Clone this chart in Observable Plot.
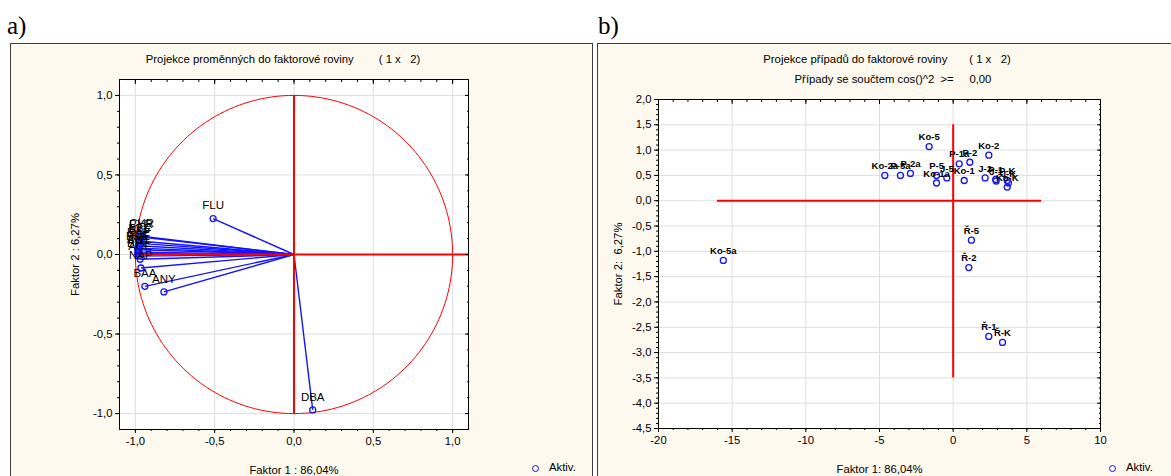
<!DOCTYPE html>
<html><head><meta charset="utf-8">
<script src="https://cdn.jsdelivr.net/npm/d3@7"></script>
<script src="https://cdn.jsdelivr.net/npm/@observablehq/plot@0.6"></script>
<style>
body{margin:0;width:1171px;height:476px;overflow:hidden;background:#fff;position:relative;font-family:"Liberation Sans",Arial,sans-serif;}
.panel{position:absolute;top:43px;height:440px;background:#fdf9ee;border:1px solid #3c3c3c;box-sizing:border-box;}
.lab{position:absolute;font-family:"Liberation Serif","Times New Roman",serif;font-size:25px;line-height:28px;color:#000}
.title{position:absolute;width:400px;text-align:center;font-size:11.3px;white-space:pre;color:#000;line-height:13px}
.leg{position:absolute;font-size:11.3px;color:#000;line-height:13px;white-space:pre}
.leg .c{display:inline-block;width:5px;height:5px;border:1.3px solid #1414ff;border-radius:50%;margin-right:10px;vertical-align:-1px}
.chart{position:absolute;top:43px}
</style></head><body>
<div class="lab" style="left:7px;top:12px">a)</div>
<div class="lab" style="left:598px;top:12px">b)</div>
<div class="panel" style="left:10px;width:583px"></div>
<div class="panel" style="left:597px;width:580px"></div>
<div id="a" class="chart" style="left:10px"></div>
<div id="b" class="chart" style="left:597px"></div>
<div class="title" style="left:83px;top:53px">Projekce proměnných do faktorové roviny        ( 1 x   2)</div>
<div class="title" style="left:687px;top:53px">Projekce případů do faktorové roviny       ( 1 x   2)</div>
<div class="title" style="left:693px;top:73px">Případy se součtem cos()^2  &gt;=     0,00</div>
<div class="leg" style="left:532px;top:461px"><span class="c"></span>Aktiv.</div>
<div class="leg" style="left:1109px;top:461px"><span class="c"></span>Aktiv.</div>
<script>
// ---- Panel a: factor loadings ----
const varNames = ["CHR","PYR","BBF","BKF","BAP","FLT","PHE","ANT","IND","BPE","ACE","NAP","BAA","ANY","FLU","DBA"];
const factor1Loadings = [-0.96,-0.965,-0.975,-0.97,-0.98,-0.975,-0.985,-0.98,-0.985,-0.98,-0.97,-0.965,-0.94,-0.82,-0.51,0.118];
const factor2Loadings = [0.115,0.11,0.085,0.07,0.055,0.04,0.03,0.015,0.005,-0.01,-0.03,-0.085,-0.2,-0.235,0.226,-0.977];
const ticksA = [-1, -0.5, 0, 0.5, 1];

// ---- Panel b: case scores ----
const caseNames = ["Ko-5","Ko-2","P-1a","P-2","Ko-2a","P-5a","P-2a","P-5","Ko-1a","J-5","Ko-1","J-2","P-1","J-1","P-K","J-K","Ko-K","Ř-5","Ř-2","Ř-1","Ř-K","Ko-5a"];
const factor1Scores = [-1.63,2.42,0.41,1.13,-4.64,-3.58,-2.90,-1.13,-1.13,-0.43,0.75,2.17,2.89,2.92,3.67,3.75,3.67,1.24,1.06,2.42,3.35,-15.6];
const factor2Scores = [1.07,0.90,0.73,0.76,0.50,0.50,0.54,0.50,0.35,0.45,0.40,0.45,0.42,0.39,0.40,0.35,0.27,-0.78,-1.32,-2.68,-2.80,-1.18];
const xTicksB = [-20, -15, -10, -5, 0, 5, 10];
const yTicksB = [2, 1.5, 1, 0.5, 0, -0.5, -1, -1.5, -2, -2.5, -3, -3.5, -4, -4.5];

const blue = "#1414ff", red = "#ff0000", gridColor = "#dedede", ink = "#000";
const fmt1 = d => (Math.abs(d) < 1e-9 ? 0 : d).toFixed(1).replace(".", ",");
const fmt0 = d => String(d);

const loadings = varNames.map((name, i) => ({name, x: factor1Loadings[i], y: factor2Loadings[i]}));
const scores = caseNames.map((name, i) => ({name, x: factor1Scores[i], y: factor2Scores[i]}));

// geometric guide: unit correlation circle
const unitCircle = d3.range(0, 361, 2).map(a => ({x: Math.cos(a * Math.PI / 180), y: Math.sin(a * Math.PI / 180)}));

const minorA = d3.range(-10, 11).map(i => i / 10);
const minorBx = d3.range(-20, 11);
const minorBy = d3.range(-45, 21).map(i => i / 10);

const style = {background: "transparent", fontFamily: "'Liberation Sans', Arial, sans-serif", fontSize: "11.3px", color: ink, overflow: "visible"};

function borderAxes(xMaj, xMin, yMaj, yMin) {
  return [
    Plot.axisX(xMin, {anchor: "bottom", tickSize: 2, fill: "none", label: null}),
    Plot.axisY(yMin, {anchor: "left", tickSize: 2, fill: "none", label: null}),
    Plot.axisX(xMaj, {anchor: "top", tickSize: -4, fill: "none", label: null}),
    Plot.axisX(xMin, {anchor: "top", tickSize: -2, fill: "none", label: null}),
    Plot.axisY(yMaj, {anchor: "right", tickSize: -4, fill: "none", label: null}),
    Plot.axisY(yMin, {anchor: "right", tickSize: -2, fill: "none", label: null})
  ];
}

const chartA = Plot.plot({
  width: 583, height: 433,
  marginLeft: 109, marginRight: 125, marginTop: 36, marginBottom: 47,
  x: {domain: [-1.1, 1.1]},
  y: {domain: [-1.1, 1.1]},
  style,
  marks: [
    Plot.frame({fill: "white", stroke: null}),
    Plot.gridX(ticksA, {stroke: gridColor, strokeOpacity: 1}),
    Plot.gridY(ticksA, {stroke: gridColor, strokeOpacity: 1}),
    Plot.link(loadings, {x1: 0, y1: 0, x2: "x", y2: "y", stroke: blue, strokeWidth: 1.4}),
    Plot.line(unitCircle, {x: "x", y: "y", stroke: red, strokeWidth: 1}),
    Plot.ruleY([0], {x1: -1, x2: 1.1, stroke: red, strokeWidth: 2}),
    Plot.ruleX([0], {y1: -1, y2: 1, stroke: red, strokeWidth: 2}),
    Plot.dot(loadings, {x: "x", y: "y", r: 3, stroke: blue, strokeWidth: 1.3, fill: "none"}),
    Plot.text(loadings, {x: "x", y: "y", text: "name", dy: -13, fill: "#000", fontSize: 11.5}),
    Plot.frame({stroke: "#000"}),
    Plot.axisX(ticksA, {anchor: "bottom", tickSize: 4, tickPadding: 3, tickFormat: fmt1, label: "Faktor 1 : 86,04%", labelAnchor: "center", labelArrow: "none", labelOffset: 44}),
    Plot.axisY(ticksA, {anchor: "left", tickSize: 4, tickPadding: 3, tickFormat: fmt1, label: "Faktor 2 : 6,27%", labelAnchor: "center", labelArrow: "none", labelOffset: 49}),
    ...borderAxes(ticksA, minorA, ticksA, minorA)
  ]
});
document.getElementById("a").append(chartA);

const chartB = Plot.plot({
  width: 574, height: 433,
  marginLeft: 61, marginRight: 71, marginTop: 56, marginBottom: 48,
  x: {domain: [-20, 10]},
  y: {domain: [-4.5, 2]},
  style,
  marks: [
    Plot.frame({fill: "white", stroke: null}),
    Plot.gridX(xTicksB, {stroke: gridColor, strokeOpacity: 1}),
    Plot.gridY(yTicksB, {stroke: gridColor, strokeOpacity: 1}),
    Plot.ruleY([0], {x1: -16, x2: 6, stroke: red, strokeWidth: 2}),
    Plot.ruleX([0], {y1: 1.5, y2: -3.5, stroke: red, strokeWidth: 2}),
    Plot.dot(scores, {x: "x", y: "y", r: 3, stroke: blue, strokeWidth: 1.3, fill: "none"}),
    Plot.text(scores, {x: "x", y: "y", text: "name", dy: -9.5, fill: "#000", fontSize: 9.5, fontWeight: "bold"}),
    Plot.frame({stroke: "#000"}),
    Plot.axisX(xTicksB, {anchor: "bottom", tickSize: 4, tickPadding: 3, tickFormat: fmt0, label: "Faktor 1: 86,04%", labelAnchor: "center", labelArrow: "none", labelOffset: 44}),
    Plot.axisY(yTicksB, {anchor: "left", tickSize: 4, tickPadding: 3, tickFormat: fmt1, label: "Faktor 2:  6,27%", labelAnchor: "center", labelArrow: "none", labelOffset: 45}),
    ...borderAxes(xTicksB, minorBx, yTicksB, minorBy)
  ]
});
document.getElementById("b").append(chartB);
</script>
</body></html>
